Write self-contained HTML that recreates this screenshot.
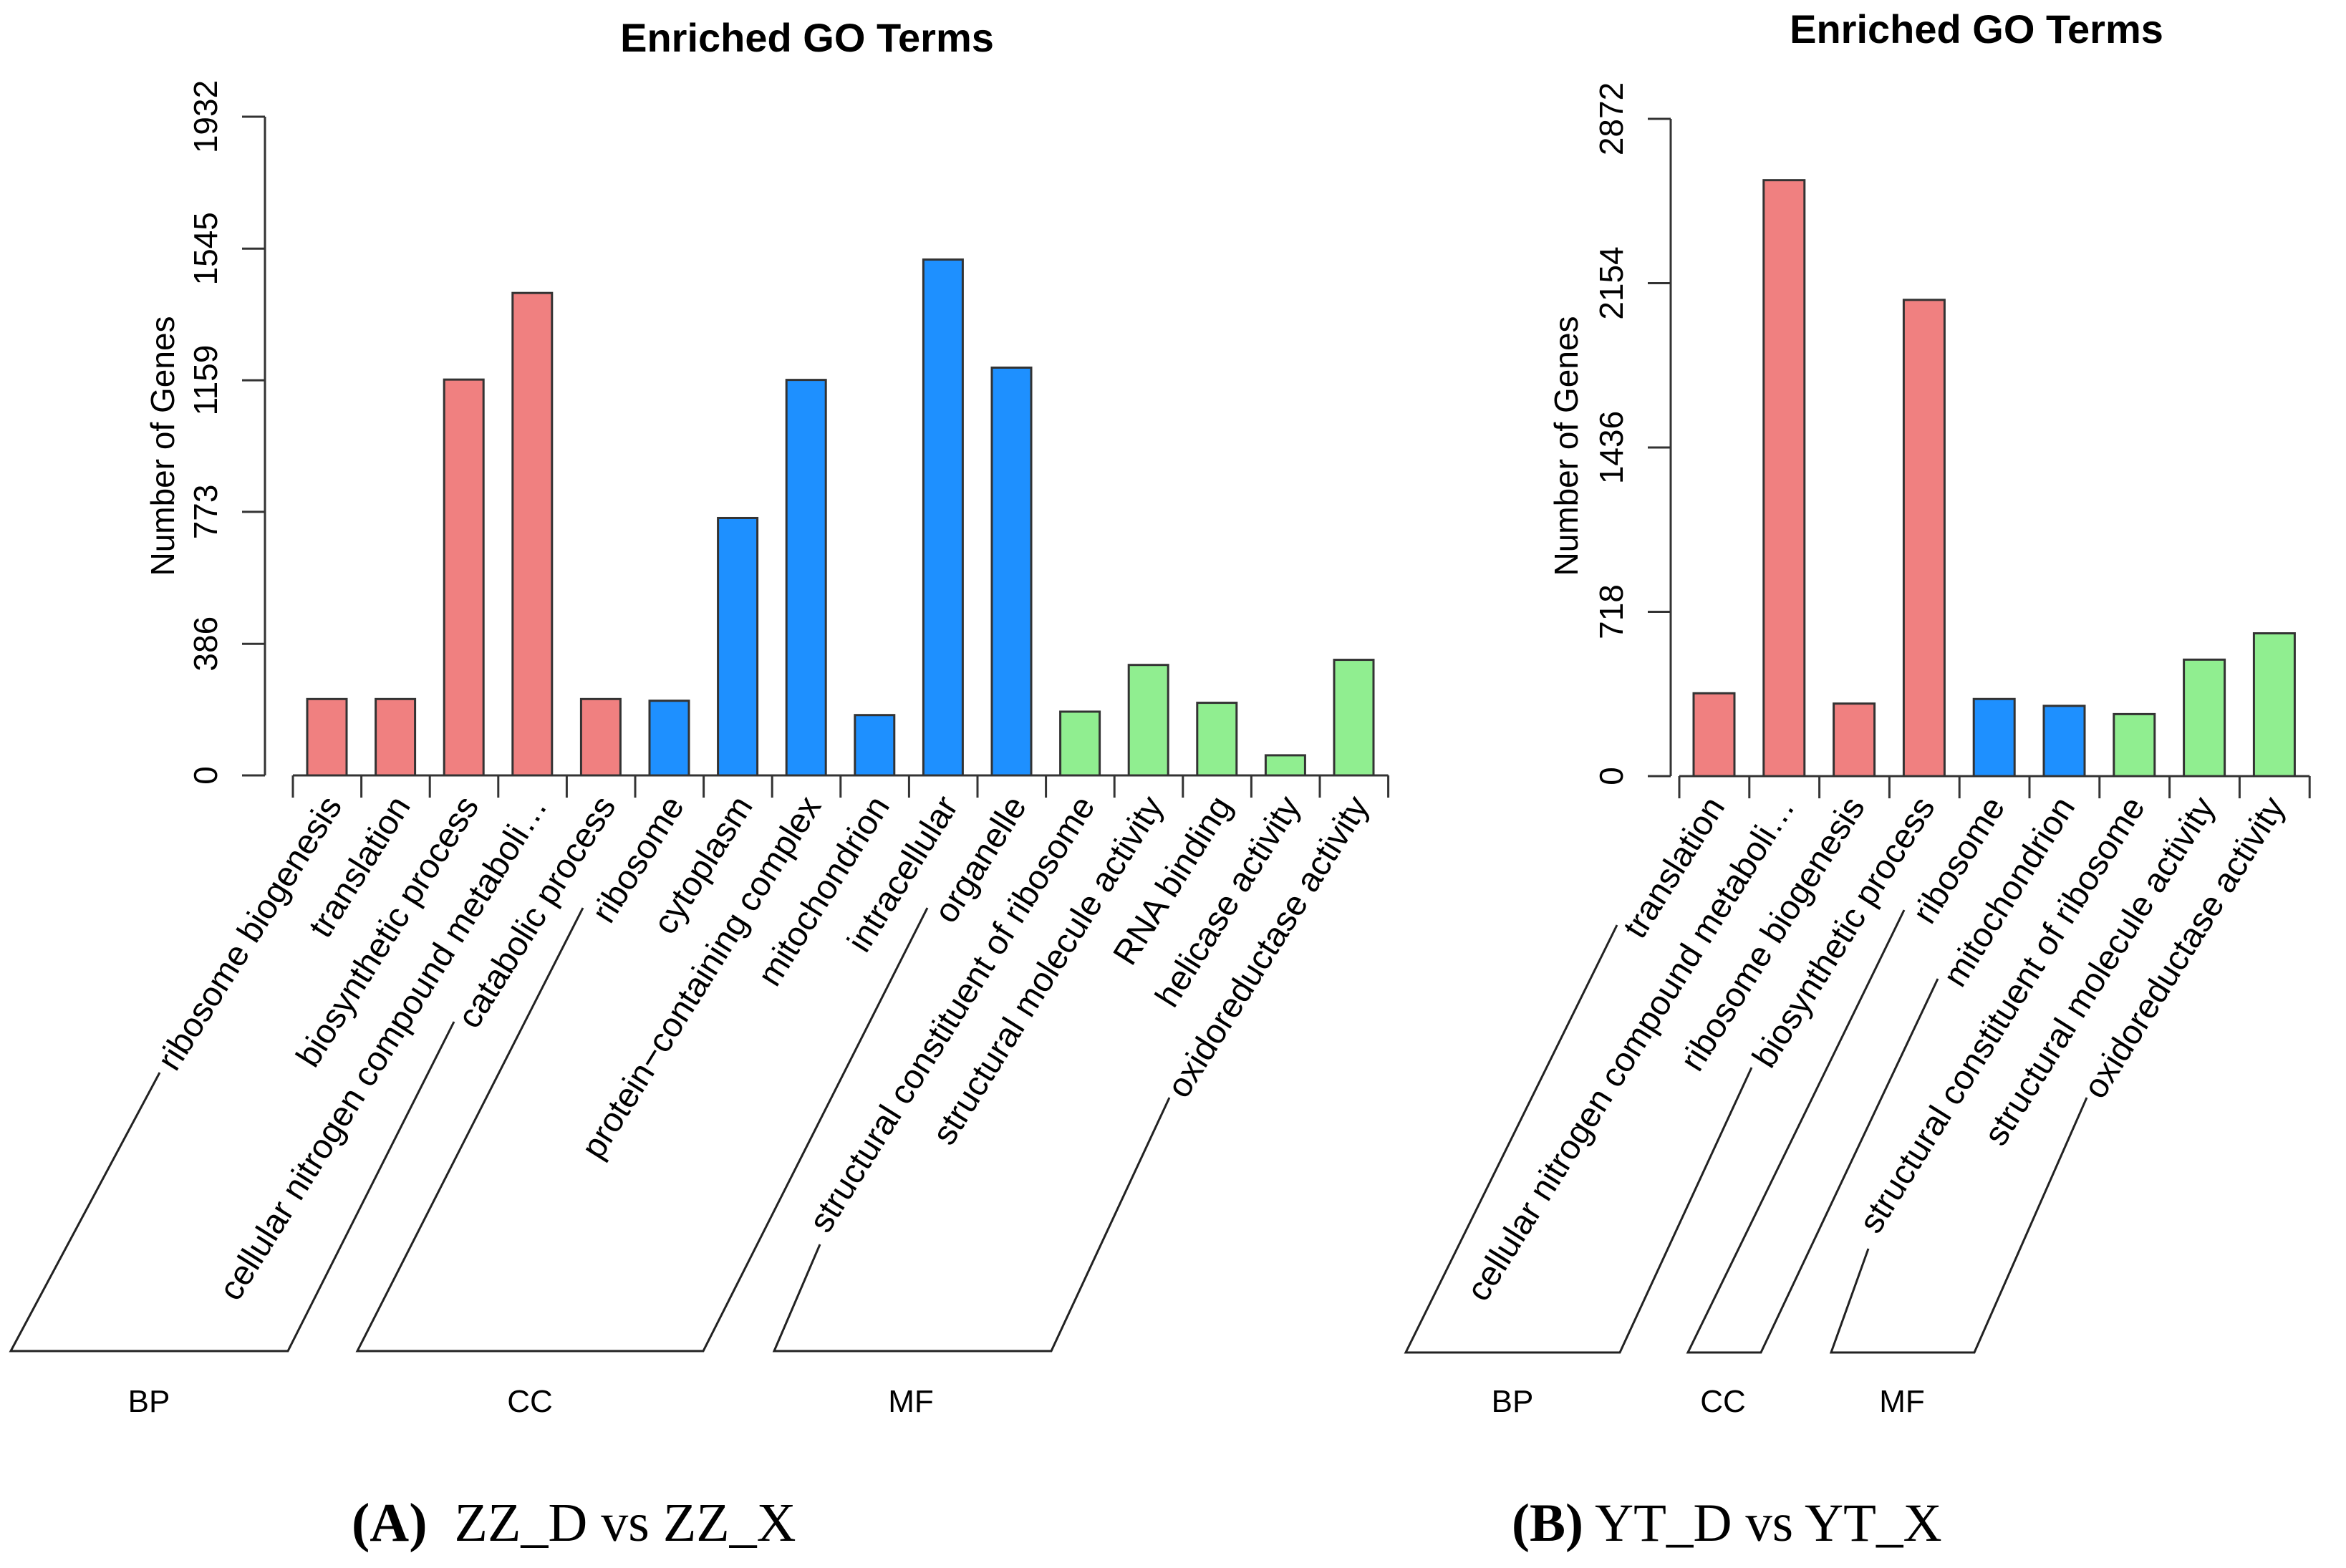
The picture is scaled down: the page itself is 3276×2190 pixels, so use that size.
<!DOCTYPE html>
<html><head><meta charset="utf-8"><style>
html,body{margin:0;padding:0;background:#fff;}
svg{display:block;}
text{font-family:"Liberation Sans",sans-serif;fill:#000;white-space:pre;}
</style></head><body>
<svg id="root" width="3276" height="2190" viewBox="0 0 3276 2190" xmlns="http://www.w3.org/2000/svg">
<g id="panelA"></g>
<g id="panelB"></g>
<text x="491" y="2152" xml:space="preserve" style="font-family:'Liberation Serif',serif;font-size:76px"><tspan font-weight="bold">(A)</tspan>  ZZ_D vs ZZ_X</text>
<text x="2111" y="2152" xml:space="preserve" style="font-family:'Liberation Serif',serif;font-size:75px"><tspan font-weight="bold">(B)</tspan> YT_D vs YT_X</text>
</svg>
<script>
const catsA = ["ribosome biogenesis","translation","biosynthetic process","cellular nitrogen compound metaboli\u2026","catabolic process","ribosome","cytoplasm","protein\u2212containing complex","mitochondrion","intracellular","organelle","structural constituent of ribosome","structural molecule activity","RNA binding","helicase activity","oxidoreductase activity"];
const groupsA = ["BP","BP","BP","BP","BP","CC","CC","CC","CC","CC","CC","MF","MF","MF","MF","MF"];
const valuesA = [224,224,1161,1415,224,219,755,1160,177,1513,1196,187,324,213,59,339];
const ticksA = [0,386,773,1159,1545,1932];

const catsB = ["translation","cellular nitrogen compound metaboli\u2026","ribosome biogenesis","biosynthetic process","ribosome","mitochondrion","structural constituent of ribosome","structural molecule activity","oxidoreductase activity"];
const groupsB = ["BP","BP","BP","BP","CC","CC","MF","MF","MF"];
const valuesB = [362,2604,317,2081,337,307,271,509,624];
const ticksB = [0,718,1436,2154,2872];

const COLORS = {BP:"#F08080", CC:"#1E90FF", MF:"#90EE90"};
const NS = "http://www.w3.org/2000/svg";
function mk(tag, parent, attrs){
  const e = document.createElementNS(NS, tag);
  for (const k in attrs) e.setAttribute(k, attrs[k]);
  parent.appendChild(e);
  return e;
}

function drawPanel(g, cfg){
  const yScale = v => cfg.base - v / cfg.ymax * (cfg.base - cfg.ytop);
  const xLeft = i => cfg.x0 + i * cfg.step;
  const t = mk("text", g, {x:cfg.titleX, y:cfg.titleY, "text-anchor":"middle", "font-size":"56", "font-weight":"bold"});
  
  
  t.textContent = "Enriched GO Terms";
  const ya = mk("line", g, {x1:cfg.axisX, x2:cfg.axisX, y1:yScale(cfg.ticks[cfg.ticks.length-1]), y2:yScale(0), stroke:"#333", "stroke-width":"3"});
  
  
  cfg.ticks.forEach(v=>{
    const y = yScale(v);
    const tk = mk("line", g, {x1:cfg.axisX-32, x2:cfg.axisX, y1:y, y2:y, stroke:"#333", "stroke-width":"3"});
    
    
    const lb = mk("text", g, {x:0, y:0, "text-anchor":"middle", "font-size":"46", transform:`translate(${cfg.axisX-67},${y}) rotate(-90)`});
    
    
    lb.textContent = v;
  });
  const yt = mk("text", g, {x:0, y:0, "text-anchor":"middle", "font-size":"46", transform:`translate(${cfg.ylabX},${623}) rotate(-90)`});
  
  
  yt.textContent = "Number of Genes";
  const n = cfg.values.length;
  cfg.values.forEach((v,i)=>{
    const x = xLeft(i) + cfg.pad;
    const y = yScale(v);
    const r = mk("rect", g, {x:x, y:y, width:cfg.bw, height:yScale(0)-y, fill:COLORS[cfg.groups[i]], stroke:"#333", "stroke-width":"3"});
    
    
  });
  const xa = mk("line", g, {x1:xLeft(0), x2:xLeft(n), y1:cfg.base, y2:cfg.base, stroke:"#333", "stroke-width":"3"});
  
  
  for (let i=0;i<=n;i++){
    const tk = mk("line", g, {x1:xLeft(i), x2:xLeft(i), y1:cfg.base, y2:cfg.base+31, stroke:"#333", "stroke-width":"3"});
    
    
  }
  cfg.cats.forEach((c,i)=>{
    const cx = xLeft(i) + cfg.step/2;
    const lb = mk("text", g, {x:0, y:0, "text-anchor":"end", "font-size":"48", transform:`translate(${cx+cfg.lblOff},${cfg.base+42}) rotate(-58)`});
    
    
    lb.textContent = c;
  });
  cfg.brackets.forEach(b=>{
    const p = mk("polyline", g, {points:b.pts, fill:"none", stroke:"#222", "stroke-width":"3"});
    
    
    const tl = mk("text", g, {x:b.lx, y:1972, "text-anchor":"middle", "font-size":"44"});
    
    
    tl.textContent = b.name;
  });
}

drawPanel(document.getElementById("panelA"), {
  cats:catsA, groups:groupsA, values:valuesA, ticks:ticksA, ymax:1932,
  base:1083, ytop:163, axisX:370, x0:409, step:95.6, pad:20, bw:55, lblOff:22,
  titleX:1127, titleY:72, ylabX:243,
  brackets:[
    {name:"BP", lx:208, pts:"223,1498 15,1887 402,1887 634,1427"},
    {name:"CC", lx:740, pts:"814,1268 499,1887 982,1887 1295,1268"},
    {name:"MF", lx:1272, pts:"1145,1738 1081,1887 1468,1887 1633,1533"}
  ]
});
drawPanel(document.getElementById("panelB"), {
  cats:catsB, groups:groupsB, values:valuesB, ticks:ticksB, ymax:2872,
  base:1084, ytop:166, axisX:2333, x0:2345, step:97.8, pad:20, bw:57, lblOff:16,
  titleX:2760, titleY:60, ylabX:2203,
  brackets:[
    {name:"BP", lx:2112, pts:"2258,1292 1963,1889 2262,1889 2446,1491"},
    {name:"CC", lx:2406, pts:"2659,1271 2357,1889 2459,1889 2706,1367"},
    {name:"MF", lx:2656, pts:"2609,1744 2557,1889 2757,1889 2914,1533"}
  ]
});
</script>
</body></html>
